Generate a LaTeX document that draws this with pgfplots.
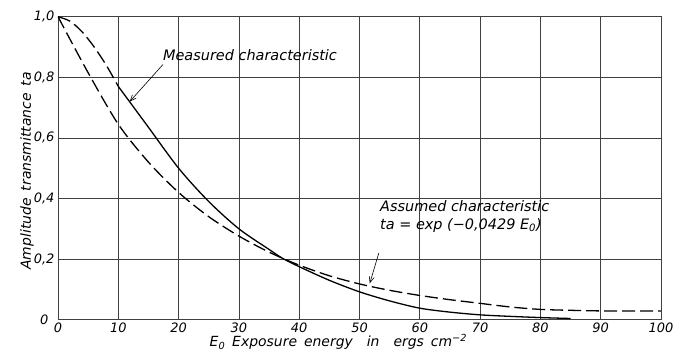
\documentclass[border=0pt]{standalone}
\usepackage{pgfplots}
\pgfplotsset{compat=1.18}
\usepackage{fontspec}
\setmainfont{DejaVu Sans}
\usetikzlibrary{arrows.meta}
\begin{document}
\begin{tikzpicture}
\useasboundingbox (-58bp,-34.3bp) rectangle (617bp,319.7bp);
\begin{axis}[
  at={(0,0)}, anchor=south west,
  scale only axis, width=603bp, height=303bp,
  xmin=0, xmax=100, ymin=0, ymax=1,
  xtick={0,10,...,100},
  ytick={0,0.2,0.4,0.6,0.8,1},
  yticklabels={{0\hspace*{6bp}},{0,2},{0,4},{0,6},{0,8},{1,0}},
  grid=major,
  major grid style={black!75, line width=0.7bp},
  axis line style={black!75, line width=0.9bp},
  major tick length=0pt,
  /pgf/number format/assume math mode=true,
  tick label style={font=\fontsize{13}{15}\selectfont\itshape},
  label style={font=\fontsize{14}{16}\selectfont\itshape},
  xlabel={E\textsubscript{0}\enspace Exposure\enspace energy\quad in\quad ergs\enspace cm\textsuperscript{−2}},
  ylabel={Amplitude\enspace transmittance\enspace ta},
  xlabel style={at={(axis description cs:0.465,-0.09)}, anchor=base},
  ylabel style={at={(axis description cs:-0.0514,0.491)}, anchor=center},
]
% measured characteristic (extrapolated part dashed)
\addplot[black, line width=1.3bp, dash pattern=on 13bp off 5bp, smooth] coordinates {
  (0,1.0) (2,0.985) (4,0.95) (6,0.90) (8,0.84) (10,0.77)
};
\addplot[black, line width=1.3bp, smooth] coordinates {
  (10,0.77) (12,0.716) (15,0.635) (20,0.50) (25,0.39) (30,0.30) (35,0.232)
  (37.2,0.203) (40,0.175) (45,0.13) (50,0.092) (55,0.062) (60,0.038)
  (65,0.025) (70,0.016) (75,0.011) (80,0.007) (85,0.004)
};
% assumed characteristic
\addplot[black, line width=1.3bp, dash pattern=on 13bp off 5bp, smooth] coordinates {
  (0,1.0) (5,0.815) (10,0.645) (15,0.52) (20,0.42) (25,0.34) (30,0.276)
  (35,0.223) (40,0.18) (45,0.145) (50,0.118) (55,0.097) (60,0.08)
  (65,0.066) (70,0.054) (75,0.042) (80,0.034) (85,0.031) (90,0.029)
  (95,0.029) (100,0.029)
};
\node[anchor=base west, inner sep=0pt, font=\fontsize{14.5}{17}\selectfont\itshape]
  at (axis cs:17.4,0.854) {Measured characteristic};
\draw[-{Straight Barb[length=6bp,width=5bp]}, line width=0.6bp]
  (axis cs:17.4,0.842) -- (axis cs:11.9,0.72);
\node[anchor=base west, inner sep=0pt, align=left, font=\fontsize{14.5}{17.7}\selectfont\itshape]
  at (axis cs:53.4,0.298) {Assumed characteristic\\ta = exp (−0,0429 E\textsubscript{0})};
\draw[-{Straight Barb[length=6bp,width=5bp]}, line width=0.6bp]
  (axis cs:53.2,0.22) -- (axis cs:51.7,0.12);
\end{axis}
\end{tikzpicture}
\end{document}
